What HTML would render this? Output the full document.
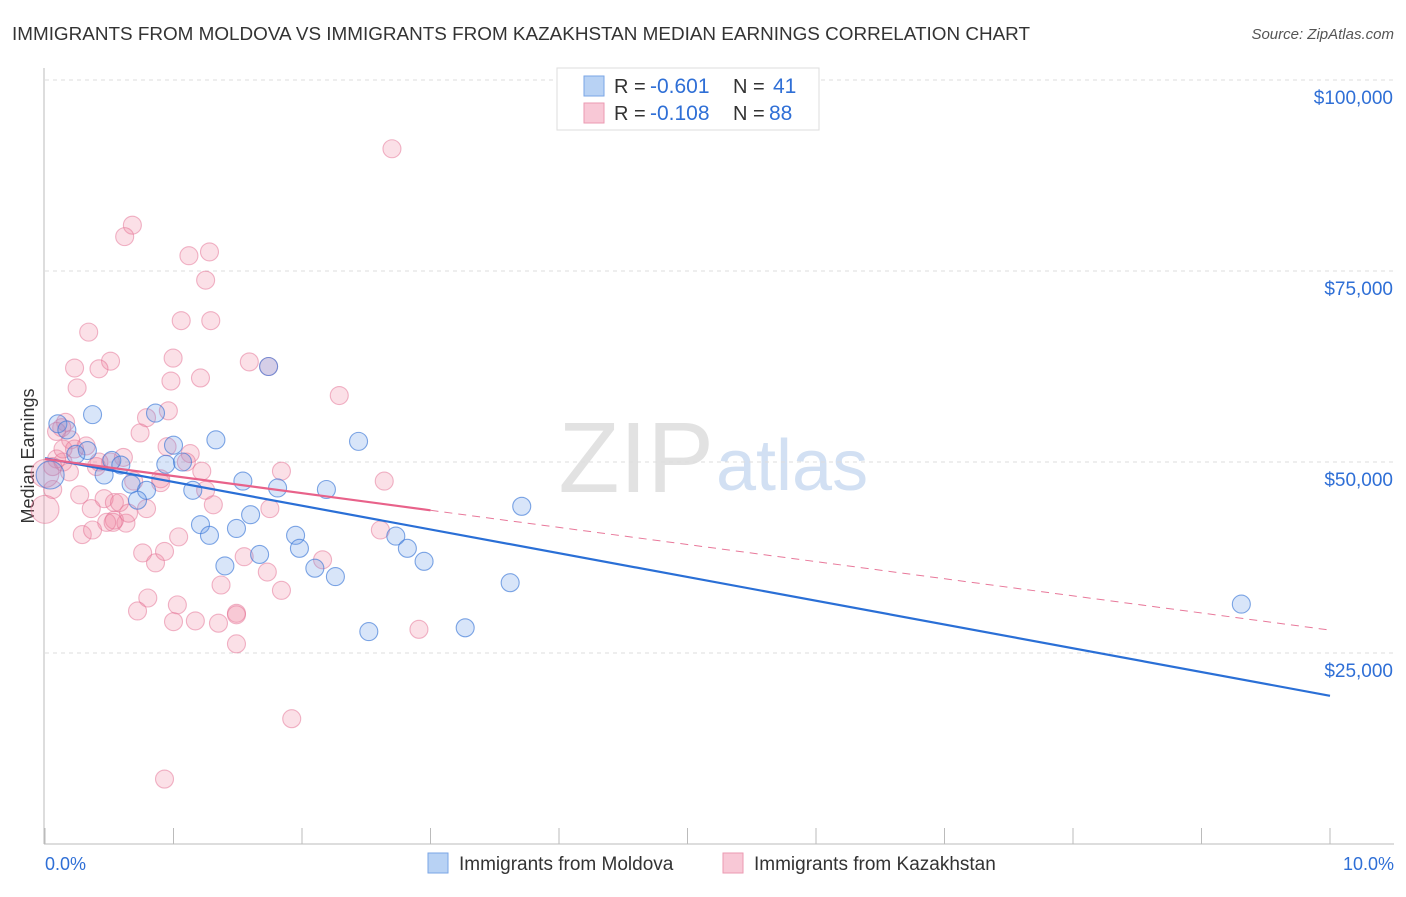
<!DOCTYPE html>
<html><head><meta charset="utf-8"><style>
body{margin:0;background:#fff;font-family:"Liberation Sans",sans-serif}
svg text{font-family:"Liberation Sans",sans-serif}
</style></head><body>
<svg id="c" width="1406" height="892">
<text x="12" y="40" font-size="18" fill="#333" textLength="1018" lengthAdjust="spacingAndGlyphs">IMMIGRANTS FROM MOLDOVA VS IMMIGRANTS FROM KAZAKHSTAN MEDIAN EARNINGS CORRELATION CHART</text>
<text x="1394" y="39" font-size="15" fill="#555" font-style="italic" text-anchor="end">Source: ZipAtlas.com</text>
<text x="714" y="492" font-size="100" fill="#e2e2e2" text-anchor="end" font-family="Liberation Serif">ZIP</text>
<text x="716" y="490" font-size="72" fill="#d2e0f3">atlas</text>
<text x="34" y="456" font-size="18" fill="#333" text-anchor="middle" transform="rotate(-90 34 456)">Median Earnings</text>
<g id="grid"></g><g id="axes"></g><g id="pts"></g><g id="lines"></g>
<g>
<rect x="557" y="68" width="262" height="62" fill="#fff" stroke="#ddd"/>
<rect x="584" y="76" width="20" height="20" fill="#b8d2f4" stroke="#7aa6e6"/>
<rect x="584" y="103" width="20" height="20" fill="#f8c8d6" stroke="#eb9ab2"/>
<text x="614" y="93" font-size="20" fill="#333">R =</text><text x="650" y="93" font-size="21" fill="#2f6fd6">-0.601</text>
<text x="733" y="93" font-size="20" fill="#333">N =</text><text x="773" y="93" font-size="21" fill="#2f6fd6">41</text>
<text x="614" y="120" font-size="20" fill="#333">R =</text><text x="650" y="120" font-size="21" fill="#2f6fd6">-0.108</text>
<text x="733" y="120" font-size="20" fill="#333">N =</text><text x="769" y="120" font-size="21" fill="#2f6fd6">88</text>
</g>
<g>
<rect x="428" y="853" width="20" height="20" fill="#b8d2f4" stroke="#7aa6e6"/>
<text x="459" y="870" font-size="19" fill="#333">Immigrants from Moldova</text>
<rect x="723" y="853" width="20" height="20" fill="#f8c8d6" stroke="#eb9ab2"/>
<text x="754" y="870" font-size="19" fill="#333">Immigrants from Kazakhstan</text>
</g>
<text x="45" y="870" font-size="18" fill="#2f6fd6">0.0%</text>
<text x="1394" y="870" font-size="18" fill="#2f6fd6" text-anchor="end">10.0%</text>
</svg>
<script>
const yTicks=[25000,50000,75000,100000];
const yTickLabels=["$25,000","$50,000","$75,000","$100,000"];
const xTicks=[0,1,2,3,4,5,6,7,8,9,10];
const moldovaX=[0.10,0.17,0.37,0.33,0.24,0.52,0.59,0.46,0.67,0.79,0.72,0.86,1.00,0.94,1.07,1.33,1.15,1.21,1.28,1.49,1.60,1.54,1.67,1.81,1.95,1.98,2.10,2.26,2.19,2.44,2.73,2.82,2.95,2.52,3.27,3.62,3.71,9.31,1.74,1.40,0.04];
const moldovaY=[55000,54200,56200,51500,51000,50200,49600,48300,47100,46300,45000,56400,52200,49700,50000,52900,46300,41800,40400,41300,43100,47500,37900,46600,40400,38700,36100,35000,46400,52700,40300,38700,37000,27800,28300,34200,44200,31400,62500,36400,48300];
const moldovaTrend=[50500,19400];
const kazX=[2.70,0.68,0.62,1.28,1.12,1.25,1.06,1.29,0.34,0.51,0.42,0.23,0.997,1.21,1.59,0.98,1.74,0.25,2.29,0.96,0.79,0.16,0.13,0.74,0.09,0.95,0.32,0.20,0.61,1.13,0.51,0.40,0.14,0.09,0.19,1.22,1.84,2.64,0.69,0.90,0.06,0.27,0.46,0.54,0.79,0.36,1.31,1.75,0.90,0.63,0.54,0.48,0.65,0.29,0.37,1.04,0.76,0.86,1.55,1.73,1.37,1.84,2.16,2.61,0.80,0.72,1.03,1.49,1.00,1.17,1.35,2.91,1.49,1.92,0.93,0.0,0.0,0.42,0.14,0.06,0.58,0.23,1.10,1.25,1.49,0.93,0.53];
const kazY=[91000,81000,79500,77500,77000,73800,68500,68500,67000,63200,62200,62300,63600,61000,63100,60600,62500,59700,58700,56700,55800,55200,54500,53800,54000,52000,52100,52900,50600,51100,50000,49400,50000,50400,48700,48800,48800,47500,47500,47300,46400,45700,45200,44700,43900,43900,44400,43900,47800,42000,42400,42100,43300,40500,41100,40200,38100,36800,37600,35600,33900,33200,37200,41100,32200,30500,31300,30200,29100,29200,28900,28100,26200,16400,8500,43800,48500,50000,51700,49400,44700,51700,50000,46300,30000,38300,42100];
const kazTrend=[50400,28000];
const kazSolidEnd=3.0;
const X=v=>45+v*128.5, Y=v=>844-v*191/25000;
const NS="http://www.w3.org/2000/svg";
function mk(t,a,p){const e=document.createElementNS(NS,t);for(const k in a)e.setAttribute(k,a[k]);p.appendChild(e);return e;}
const grid=document.getElementById('grid'),axes=document.getElementById('axes'),pts=document.getElementById('pts'),lines=document.getElementById('lines');
yTicks.forEach((t,i)=>{
 const g=mk('line',{x1:45,x2:1394,y1:Y(t),y2:Y(t),stroke:'#ddd','stroke-dasharray':'4,4'},grid);
 
 
 const l=mk('text',{x:1393,y:Y(t)+24,'font-size':19,fill:'#2f6fd6','text-anchor':'end'},grid);l.textContent=yTickLabels[i];
 
 
});
const ax=mk('line',{x1:44,x2:44,y1:68,y2:844,stroke:'#bbb'},axes);


const bx=mk('line',{x1:44,x2:1394,y1:844,y2:844,stroke:'#bbb'},axes);


xTicks.forEach(t=>{const k=mk('line',{x1:X(t),x2:X(t),y1:828,y2:844,stroke:'#bbb'},axes);
 
 });
kazX.forEach((x,i)=>{const big=x===0;const c=mk('circle',{cx:X(x),cy:Y(kazY[i]),r:big?14:9,fill:'rgba(240,130,160,0.25)',stroke:'rgba(228,110,145,0.5)','stroke-width':1.1},pts);
 
 });
moldovaX.forEach((x,i)=>{const big=x<0.05;const c=mk('circle',{cx:X(x),cy:Y(moldovaY[i]),r:big?14:9,fill:'rgba(100,150,230,0.25)',stroke:'rgba(60,120,215,0.65)','stroke-width':1.1},pts);
 
 });
const kf=v=>kazTrend[0]+(kazTrend[1]-kazTrend[0])*v/10;
const l1=mk('line',{x1:X(0),y1:Y(moldovaTrend[0]),x2:X(10),y2:Y(moldovaTrend[1]),stroke:'#2a6fd6','stroke-width':2.2},lines);


const l2=mk('line',{x1:X(0),y1:Y(kf(0)),x2:X(kazSolidEnd),y2:Y(kf(kazSolidEnd)),stroke:'#e8628a','stroke-width':2.2},lines);


const l3=mk('line',{x1:X(kazSolidEnd),y1:Y(kf(kazSolidEnd)),x2:X(10),y2:Y(kf(10)),stroke:'#e8789a','stroke-width':1,'stroke-dasharray':'8,6'},lines);


</script>
</body></html>
